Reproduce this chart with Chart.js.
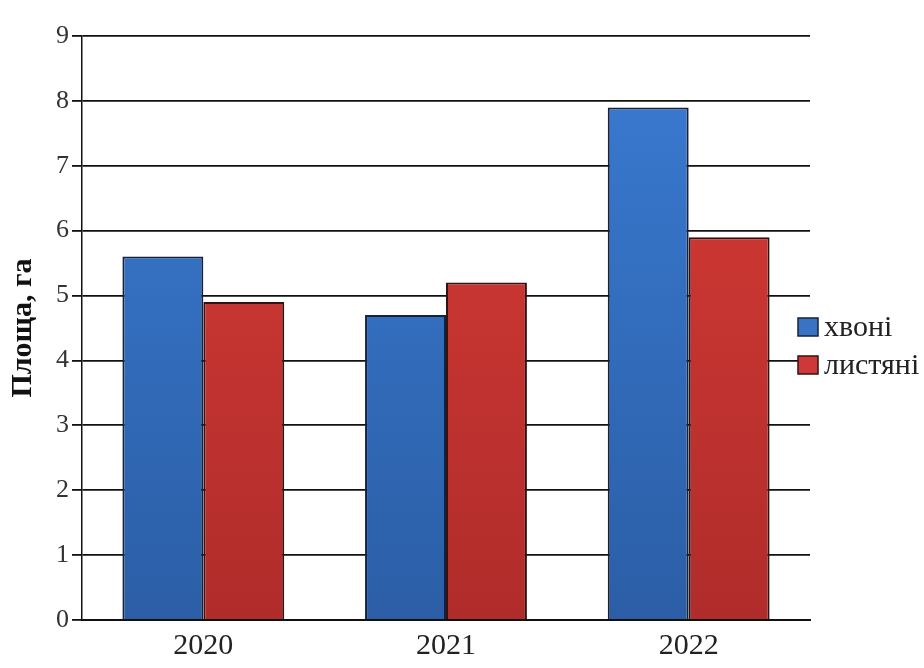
<!DOCTYPE html>
<html>
<head>
<meta charset="utf-8">
<script src="https://cdn.jsdelivr.net/npm/chart.js@4.4.1/dist/chart.umd.min.js"></script>
<style>
  html, body { margin: 0; padding: 0; background: #fff; }
  #wrap { width: 924px; height: 668px; position: relative; }
</style>
</head>
<body>
<div id="wrap"><canvas id="c"></canvas></div>
<script>
const categories = ['2020', '2021', '2022'];
const seriesNames = ['хвоні', 'листяні'];
const coniferous = [5.6, 4.7, 7.9];
const deciduous = [4.9, 5.2, 5.9];
const yTicks = [0, 1, 2, 3, 4, 5, 6, 7, 8, 9];
const yTitle = 'Площа, га';

const SERIF = '"Liberation Serif", "Times New Roman", serif';

function grad(ctx, top, bottom) {
  const chart = ctx.chart;
  const area = chart.chartArea;
  if (!area) return top;
  const g = chart.ctx.createLinearGradient(0, area.top, 0, area.bottom);
  g.addColorStop(0, top);
  g.addColorStop(1, bottom);
  return g;
}

const legendPlugin = {
  id: 'sideLegend',
  afterDraw(chart) {
    const ctx = chart.ctx;
    const x = 798, ys = [318, 356];
    ctx.save();
    chart.data.datasets.forEach((ds, i) => {
      const y = ys[i];
      ctx.fillStyle = ds.legendColor;
      ctx.fillRect(x, y, 20, 18);
      ctx.strokeStyle = ds.borderColor;
      ctx.lineWidth = 1.5;
      ctx.strokeRect(x, y, 20, 18);
      ctx.fillStyle = '#222';
      ctx.font = '30px ' + SERIF;
      ctx.textBaseline = 'middle';
      ctx.textAlign = 'left';
      ctx.fillText(ds.label, x + 26, y + 10);
    });
    ctx.restore();
  }
};

new Chart(document.getElementById('c'), {
  type: 'bar',
  data: {
    labels: categories,
    datasets: [
      {
        label: seriesNames[0],
        data: coniferous,
        backgroundColor: (ctx) => grad(ctx, '#3a7bd2', '#2b5ea6'),
        legendColor: '#3a72c4',
        borderColor: '#16223c',
        borderWidth: 2
      },
      {
        label: seriesNames[1],
        data: deciduous,
        backgroundColor: (ctx) => grad(ctx, '#d83c36', '#b02c2b'),
        legendColor: '#cf3838',
        borderColor: '#331212',
        borderWidth: 2
      }
    ]
  },
  options: {
    responsive: true,
    maintainAspectRatio: false,
    animation: false,
    layout: { padding: { top: 36, right: 114, bottom: 0, left: 0 } },
    datasets: { bar: { categoryPercentage: 0.667, barPercentage: 1.0 } },
    plugins: {
      legend: { display: false },
      tooltip: { enabled: false }
    },
    scales: {
      x: {
        grid: { display: true, drawOnChartArea: false, drawTicks: false },
        border: { display: true, color: '#111', width: 2 },
        ticks: {
          color: '#222',
          font: { family: SERIF, size: 30 },
          padding: 8
        },
        afterFit(scale) { scale.height = 48; }
      },
      y: {
        min: 0,
        max: 9,
        afterBuildTicks(scale) { scale.ticks = yTicks.map(v => ({ value: v })); },
        grid: { color: '#111', lineWidth: 1.8, tickLength: 10, tickColor: '#111' },
        border: { display: true, color: '#111', width: 1.5 },
        ticks: {
          color: '#333',
          font: { family: SERIF, size: 26 },
          padding: 3
        },
        title: {
          display: true,
          text: yTitle,
          color: '#111',
          font: { family: SERIF, size: 30, weight: 'bold' },
          padding: { top: 5, bottom: 0 }
        },
        afterFit(scale) { scale.width = 82; }
      }
    }
  },
  plugins: [legendPlugin]
});
</script>
</body>
</html>
